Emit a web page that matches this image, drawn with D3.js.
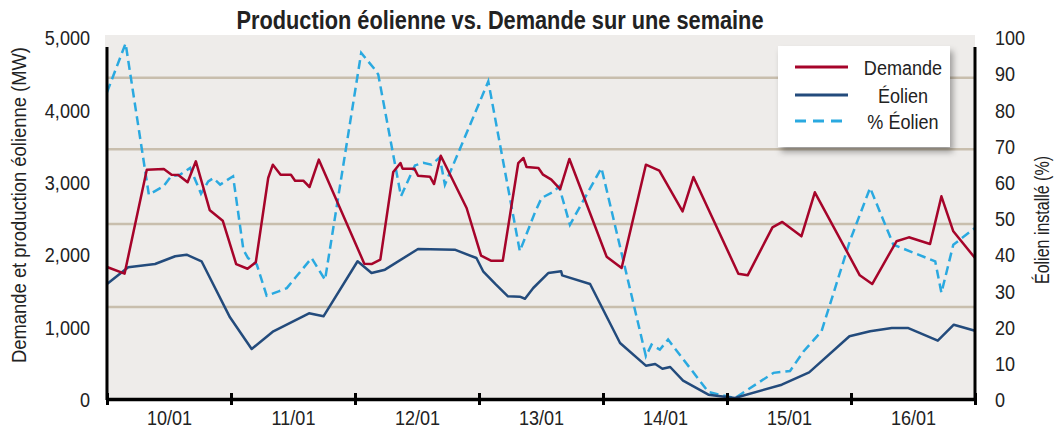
<!DOCTYPE html>
<html>
<head>
<meta charset="utf-8">
<script src="https://cdn.jsdelivr.net/npm/d3@7"></script>
<style>
  html, body { margin: 0; padding: 0; background: #ffffff; }
  svg { display: block; }
  text { font-family: "Liberation Sans", Arial, Helvetica, sans-serif; fill: #222; }
</style>
</head>
<body>
<svg id="chart" width="1055" height="433"></svg>
<script>
// ---------- DATA ----------
const startDate = new Date(2000, 0, 10, 0, 0);
const dayLabels = ["10/01", "11/01", "12/01", "13/01", "14/01", "15/01", "16/01"];
const leftTicks = [0, 1000, 2000, 3000, 4000, 5000];
const rightTicks = [0, 10, 20, 30, 40, 50, 60, 70, 80, 90, 100];
const gridValues = [1285, 2430, 3465, 4450];
const seriesNames = ["Demande", "Éolien", "% Éolien"];

// hours since 10/01 00:00
const demandHours = [0, 3.4, 7.7, 11, 12.5, 13.8, 15.6, 17.2, 19.9, 22.4, 25, 27.2, 28.8, 31.2, 32.1, 33.6, 35.6, 36.4, 38, 39.2, 41,
  49.8, 51.2, 52.9, 55.4, 56.8, 57.2, 59.5, 60.2, 62.5, 63.3, 64.6, 69.6, 72.4, 74.3, 76.6, 79.6, 80.6, 81.2, 83.5, 84.4, 86, 87.7, 89.5,
  96.7, 99.6, 104.3, 106.9, 111.4, 113.5, 122.2, 124, 128.8, 130.7, 134.4, 137, 145.7, 148.1, 152.8, 155.2, 159.3, 161.5, 163.8, 168];
const demandMW = [1837, 1745, 3181, 3190, 3112, 3108, 3007, 3297, 2620, 2477, 1878, 1813, 1902, 3066, 3250, 3112, 3112, 3029, 3029, 2942, 3320,
  1883, 1878, 1938, 3149, 3273, 3195, 3195, 3098, 3084, 2983, 3374, 2652, 1993, 1924, 1924, 3273, 3343, 3218, 3204, 3112, 3043, 2914, 3329,
  1980, 1823, 3250, 3167, 2606, 3080, 1745, 1722, 2385, 2459, 2261, 2869, 1722, 1602, 2192, 2247, 2155, 2813, 2330, 1961];

const windHours = [0, 4.1, 9.3, 13.2, 15.4, 18.3, 23.8, 28, 32.2, 39.1, 41.9, 48.5, 51.2, 53.8, 60.2, 67.3, 71.5, 72.8, 75.2, 77.6, 79.9, 80.9, 82.5,
  85.4, 87.9, 88.1, 93.5, 99.3, 104.3, 106.1, 107.5, 109, 111.5, 116.4, 121.5, 130.6, 135.9, 143.7, 147.7, 151.9, 155.1, 160.8, 163.9, 168];
const windMW = [1602, 1833, 1878, 1985, 2007, 1916, 1142, 704, 949, 1197, 1156, 1916, 1754, 1800, 2086, 2076, 1961, 1778, 1600, 1432, 1427, 1399, 1547,
  1754, 1778, 1722, 1602, 787, 474, 497, 432, 456, 267, 73, 28, 211, 382, 880, 949, 994, 994, 819, 1040, 957];

const pctHours = [0, 3.6, 8.1, 10.9, 12.4, 14.1, 16.1, 18.2, 19.6, 20.6, 21.9, 24.4, 26.4, 27.3, 29, 30.9, 33.2, 34.8, 36.4, 39.6, 42.2,
  49.2, 51.9, 52.5, 56.9, 59.6, 61.2, 62.8, 64.4, 65.4, 73.8, 79.9, 82.8, 84.1, 86.5, 87.5, 89.6, 95.7, 104.3, 105.4, 107, 108.6,
  116.4, 121.5, 129, 132.2, 134.8, 138.3, 143.8, 147.7, 152.2, 160.3, 161.5, 163.8, 168];
const pctValues = [85, 98.5, 56.7, 59, 61.8, 62.2, 64.1, 57, 60.4, 61.3, 59.5, 61.8, 41.5, 39.2, 37.4, 28.8, 30, 30.9, 33.7, 39.2, 33.2,
  95.9, 91.2, 89.9, 56.3, 64.8, 65.5, 65, 67, 59.5, 88, 41.1, 51.7, 55.8, 57.6, 59, 48.4, 64.1, 12.1, 15.3, 13.9, 16.7,
  2.2, 0.5, 7.5, 8, 13.4, 19, 44, 58.6, 42.9, 38.3, 29.6, 42.9, 47.5];

// ---------- BUILD ----------
const toDate = h => new Date(startDate.getTime() + h * 3600 * 1000);
const demand = demandHours.map((h, i) => ({ t: toDate(h), v: demandMW[i] }));
const wind = windHours.map((h, i) => ({ t: toDate(h), v: windMW[i] }));
const pct = pctHours.map((h, i) => ({ t: toDate(h), v: pctValues[i] }));

const colors = { demand: "#a6042a", wind: "#234b7c", pct: "#2aa9e0" };
const SX = 0.86; // horizontal condensing of the Helvetica-like font

const svg = d3.select("#chart");
const X0 = 107, X1 = 975, YB = 400, YT = 38;

const x = d3.scaleTime().domain([startDate, toDate(168)]).range([X0, X1]);
const y = d3.scaleLinear().domain([0, 5000]).range([YB, YT]);
const y2 = d3.scaleLinear().domain([0, 100]).range([YB, YT]);

// drop shadow filter
const defs = svg.append("defs");
const f = defs.append("filter").attr("id", "shadow").attr("x", "-10%").attr("y", "-10%").attr("width", "130%").attr("height", "140%");
f.append("feDropShadow").attr("dx", 3).attr("dy", 5).attr("stdDeviation", 3).attr("flood-color", "#000").attr("flood-opacity", 0.35);

// plot background
svg.append("rect").attr("x", 105).attr("y", 35).attr("width", X1 - 105).attr("height", YB - 35).attr("fill", "#eeecea");

// gridlines
svg.append("g").selectAll("line").data(gridValues).join("line")
  .attr("x1", X0).attr("x2", X1)
  .attr("y1", d => y(d)).attr("y2", d => y(d))
  .attr("stroke", "#c8bead").attr("stroke-width", 2.5);

// lines
const lineL = d3.line().x(d => x(d.t)).y(d => y(d.v));
const lineR = d3.line().x(d => x(d.t)).y(d => y2(d.v));

svg.append("path").datum(pct).attr("d", lineR).attr("fill", "none")
  .attr("stroke", colors.pct).attr("stroke-width", 2.5).attr("stroke-dasharray", "9,5");
svg.append("path").datum(wind).attr("d", lineL).attr("fill", "none")
  .attr("stroke", colors.wind).attr("stroke-width", 2.5).attr("stroke-linejoin", "round");
svg.append("path").datum(demand).attr("d", lineL).attr("fill", "none")
  .attr("stroke", colors.demand).attr("stroke-width", 2.5).attr("stroke-linejoin", "round");

// axes lines
svg.append("line").attr("x1", X0).attr("x2", X0).attr("y1", 47).attr("y2", YB).attr("stroke", "#000").attr("stroke-width", 3);
svg.append("line").attr("x1", X1).attr("x2", X1).attr("y1", 47).attr("y2", YB).attr("stroke", "#000").attr("stroke-width", 3);

// bottom axis: ticks at day boundaries
const dayTicks = d3.range(0, 8).map(d => toDate(d * 24));
const gx = svg.append("g").attr("transform", `translate(0,${YB - 1})`)
  .call(d3.axisBottom(x).tickValues(dayTicks).tickFormat("").tickSize(6).tickSizeOuter(0));
gx.select(".domain").attr("stroke", "#000").attr("stroke-width", 3.5);
gx.selectAll(".tick line").attr("stroke", "#000").attr("stroke-width", 3).attr("y1", -6).attr("y2", 6);

function condense(sel, s) {
  sel.each(function () {
    const t = d3.select(this);
    const xx = +t.attr("x") || 0;
    t.attr("x", xx / s).attr("transform", `scale(${s},1)`);
  });
}

// day labels at noon
const noonTicks = d3.range(0, 7).map(d => toDate(d * 24 + 12));
const gxl = svg.append("g").attr("transform", `translate(0,${YB - 1})`)
  .call(d3.axisBottom(x).tickValues(noonTicks).tickFormat((d, i) => dayLabels[i]).tickSize(0).tickPadding(11));
gxl.select(".domain").remove();
gxl.selectAll("text").style("font-size", "21px").attr("fill", "#222").call(condense, SX);

// left axis
const gl = svg.append("g").attr("transform", `translate(${X0},0)`)
  .call(d3.axisLeft(y).tickValues(leftTicks).tickFormat(d3.format(",")).tickSize(0).tickPadding(17));
gl.select(".domain").remove();
gl.selectAll("text").style("font-size", "21px").attr("fill", "#222").call(condense, SX);

// right axis
const gr = svg.append("g").attr("transform", `translate(${X1},0)`)
  .call(d3.axisRight(y2).tickValues(rightTicks).tickSize(0).tickPadding(20));
gr.select(".domain").remove();
gr.selectAll("text").style("font-size", "21px").attr("fill", "#222").call(condense, SX);

// axis titles
svg.append("text").attr("transform", "translate(19,205) rotate(-90)")
  .attr("text-anchor", "middle").attr("dy", "0.35em").style("font-size", "20px")
  .attr("textLength", 316).attr("lengthAdjust", "spacingAndGlyphs")
  .text("Demande et production éolienne (MW)");
svg.append("text").attr("transform", "translate(1042,220) rotate(-90)")
  .attr("text-anchor", "middle").attr("dy", "0.35em").style("font-size", "20px")
  .attr("textLength", 128).attr("lengthAdjust", "spacingAndGlyphs")
  .text("Éolien installé (%)");

// title
svg.append("text").attr("x", 500).attr("y", 29).attr("text-anchor", "middle")
  .style("font-size", "26px").style("font-weight", "bold").attr("fill", "#111")
  .attr("textLength", 527).attr("lengthAdjust", "spacingAndGlyphs")
  .text("Production éolienne vs. Demande sur une semaine");

// legend
const lg = svg.append("g");
lg.append("rect").attr("x", 778).attr("y", 46).attr("width", 172).attr("height", 101)
  .attr("fill", "#fff").attr("filter", "url(#shadow)");
const legendItems = [
  { name: seriesNames[0], color: colors.demand, dash: null, y: 67 },
  { name: seriesNames[1], color: colors.wind, dash: null, y: 95 },
  { name: seriesNames[2], color: colors.pct, dash: "11,7", y: 121 }
];
legendItems.forEach(it => {
  lg.append("line").attr("x1", 795).attr("x2", 848).attr("y1", it.y).attr("y2", it.y)
    .attr("stroke", it.color).attr("stroke-width", 3).attr("stroke-dasharray", it.dash);
  lg.append("text").attr("x", 903 / SX).attr("y", it.y).attr("dy", "0.36em").attr("text-anchor", "middle")
    .attr("transform", `scale(${SX},1)`)
    .style("font-size", "21px").attr("fill", "#222").text(it.name);
});
</script>
</body>
</html>
